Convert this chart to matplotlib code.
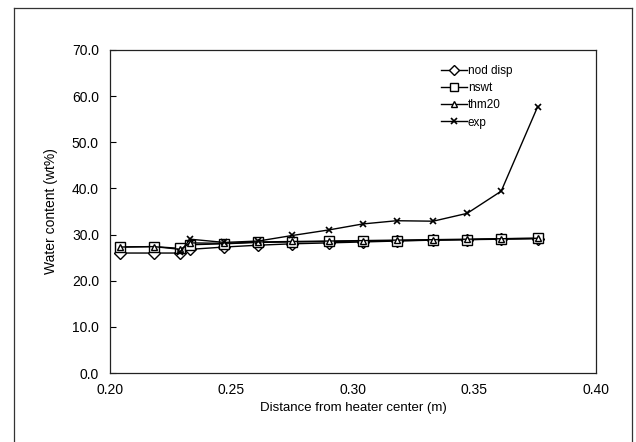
import matplotlib
matplotlib.use("Agg")
import matplotlib.pyplot as plt
from matplotlib.lines import Line2D

plt.rcParams["font.family"] = ["Liberation Sans", "DejaVu Sans"]

# distance from heater center (m)
x_model = [0.204, 0.218, 0.229, 0.233, 0.247, 0.261, 0.275, 0.290,
           0.304, 0.318, 0.333, 0.347, 0.361, 0.376]
nod_disp = [26.0, 26.0, 26.0, 26.8, 27.3, 27.7, 28.0, 28.2,
            28.4, 28.6, 28.8, 28.9, 29.0, 29.1]
nswt = [27.3, 27.4, 27.0, 27.8, 28.0, 28.3, 28.4, 28.5,
        28.6, 28.7, 28.8, 28.9, 29.1, 29.2]
thm20 = [27.3, 27.4, 26.8, 28.2, 28.1, 28.4, 28.5, 28.6,
         28.7, 28.8, 28.9, 29.0, 29.1, 29.2]

x_exp = [0.229, 0.233, 0.247, 0.261, 0.275, 0.290, 0.304,
         0.318, 0.333, 0.347, 0.361, 0.376]
exp = [26.3, 29.0, 28.3, 28.6, 29.8, 31.0, 32.3,
       33.0, 32.9, 34.6, 39.4, 57.7]

fig = plt.figure(figsize=(6.36, 4.42), dpi=100)
ax = fig.add_axes([0.173, 0.156, 0.764, 0.731])

ax.plot(x_model, nod_disp, color="black", lw=1.0, marker="D", ms=6,
        mfc="white", mec="black", mew=1.0, label="nod disp")
ax.plot(x_model, nswt, color="black", lw=1.0, marker="s", ms=6.5,
        mfc="white", mec="black", mew=1.0, label="nswt")
ax.plot(x_model, thm20, color="black", lw=1.0, marker="^", ms=5,
        mfc="white", mec="black", mew=1.0, label="thm20")
ax.plot(x_exp, exp, color="black", lw=1.0, marker="x", ms=5,
        mec="black", mew=1.2, label="exp")

ax.set_xlim(0.20, 0.40)
ax.set_ylim(0, 70)
ax.set_xticks([0.20, 0.25, 0.30, 0.35, 0.40])
ax.set_xticklabels(["0.20", "0.25", "0.30", "0.35", "0.40"])
ax.set_yticks(range(0, 71, 10))
ax.set_yticklabels([f"{v:.1f}" for v in range(0, 71, 10)])
ax.tick_params(axis="y", direction="in", length=4, labelsize=10, pad=8)
ax.tick_params(axis="x", length=0, labelsize=10, pad=7)
for s in ax.spines.values():
    s.set_linewidth(0.9); s.set_color("#222222")

ax.set_xlabel("Distance from heater center (m)", fontsize=9.5, labelpad=4)
ax.set_ylabel("Water content (wt%)", fontsize=10, labelpad=10)

leg = ax.legend(loc="upper right", bbox_to_anchor=(0.845, 0.98), frameon=False,
                fontsize=8.5, handlelength=2.2, handletextpad=0.1,
                labelspacing=0.45, borderaxespad=0.3, markerscale=0.85)

# outer frame around the chart
for xs, ys in [([0.022, 0.022], [0.0, 0.982]),
               ([0.022, 0.994], [0.982, 0.982]),
               ([0.994, 0.994], [0.0, 0.982])]:
    fig.add_artist(Line2D(xs, ys, color="#333333", lw=0.9))

fig.savefig("out.png", dpi=100)
plt.close(fig)
